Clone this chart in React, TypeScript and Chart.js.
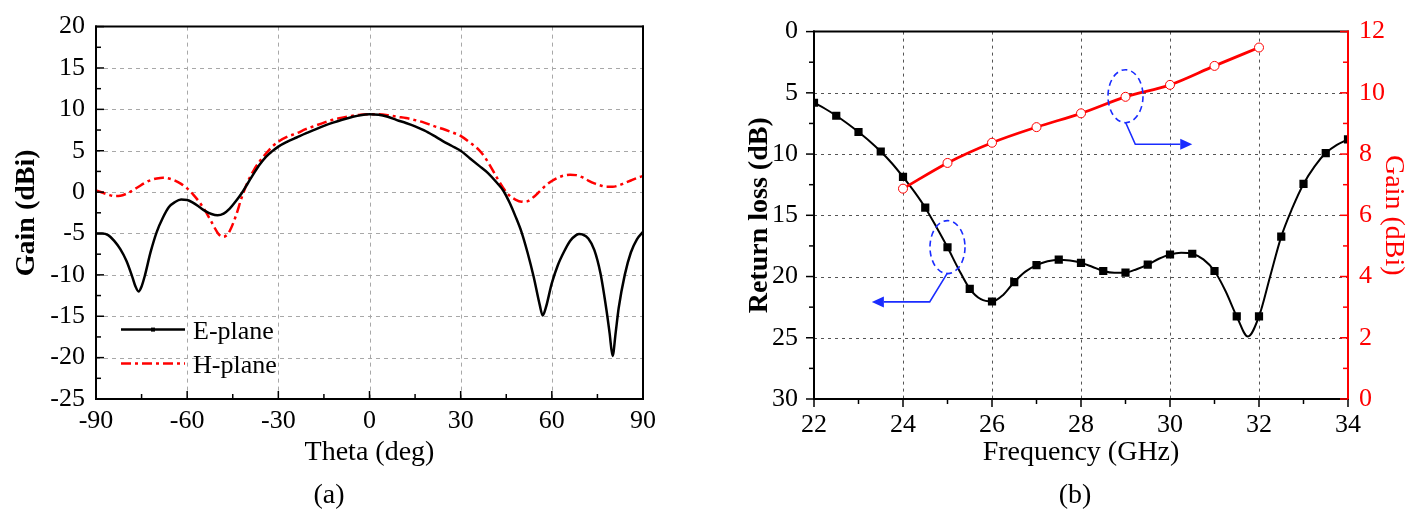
import React, { useEffect, useRef } from "react";
import { Chart, registerables } from "chart.js";
Chart.register(...registerables);

const SERIF = "'Liberation Serif', 'Times New Roman', Times, serif";

// ---------- Panel (a): radiation pattern ----------
const thetaE = [-90,-88,-86,-84,-82,-80,-78,-77,-76,-75,-74,-72,-70,-68,-66,-64,-62,-60,-58,-56,-54,-52,-50,-48,-46,-44,-42,-40,-38,-36,-34,-32,-30,-27,-24,-21,-18,-15,-12,-9,-6,-3,0,3,6,9,12,15,18,21,24,27,30,33,36,39,42,44,46,48,50,52,54,56,57,58,60,62,64,66,68,69,70,72,74,76,78,79,80,81,82,84,86,88,90];
const gainE = [-5.0,-5.0,-5.2,-5.9,-6.9,-8.3,-10.3,-11.4,-12.0,-11.4,-10.2,-7.2,-4.8,-3.1,-1.8,-1.2,-0.9,-0.95,-1.3,-1.8,-2.3,-2.65,-2.8,-2.6,-2.0,-1.1,-0.1,1.1,2.3,3.4,4.3,4.95,5.5,6.1,6.6,7.1,7.55,8.0,8.4,8.75,9.05,9.3,9.4,9.35,9.1,8.7,8.35,7.95,7.45,6.85,6.2,5.6,5.0,4.1,3.2,2.3,1.1,0.2,-1.2,-2.9,-4.8,-7.3,-10.2,-13.6,-14.9,-14.0,-11.0,-8.8,-7.2,-5.9,-5.2,-5.05,-5.1,-5.6,-7.0,-9.8,-14.3,-17.0,-19.8,-17.0,-14.0,-10.0,-7.3,-5.7,-4.8];
const thetaH = [-90,-88,-86,-84,-82,-80,-78,-76,-74,-72,-70,-68,-66,-64,-62,-60,-58,-56,-54,-52,-50,-49,-48,-47,-46,-44,-42,-40,-38,-36,-34,-32,-30,-27,-24,-21,-18,-15,-12,-9,-6,-3,0,3,6,9,12,15,18,21,24,27,30,33,36,38,40,42,44,46,48,50,52,54,56,58,60,62,64,66,68,70,72,74,76,78,80,82,84,86,88,90];
const gainH = [0.2,-0.05,-0.3,-0.48,-0.45,-0.2,0.2,0.65,1.1,1.45,1.65,1.75,1.65,1.4,1.0,0.45,-0.3,-1.2,-2.3,-3.6,-4.9,-5.3,-5.4,-5.2,-4.7,-2.9,-0.6,1.3,2.7,3.8,4.7,5.5,6.1,6.7,7.1,7.6,8.0,8.4,8.75,9.0,9.2,9.35,9.4,9.4,9.3,9.1,8.95,8.7,8.4,8.0,7.65,7.25,6.8,6.0,5.1,4.2,3.0,1.7,0.5,-0.4,-0.9,-1.15,-1.1,-0.6,0.1,0.8,1.35,1.75,2.0,2.1,2.05,1.8,1.4,1.05,0.8,0.65,0.65,0.8,1.1,1.4,1.7,1.95];
const legendLabelsA = ["E-plane", "H-plane"];
const thetaMajor = [-90, -60, -30, 0, 30, 60, 90];
const thetaMinor = [-75, -45, -15, 15, 45, 75];
const gainAMajor = [-25, -20, -15, -10, -5, 0, 5, 10, 15, 20];
const gainAMinor = [-22.5, -17.5, -12.5, -7.5, -2.5, 2.5, 7.5, 12.5, 17.5];

// ---------- Panel (b): return loss and gain vs frequency ----------
const freqRL = [22,22.25,22.5,22.75,23,23.25,23.5,23.75,24,24.25,24.5,24.75,25,25.25,25.5,25.75,26,26.25,26.5,26.75,27,27.25,27.5,27.75,28,28.25,28.5,28.75,29,29.25,29.5,29.75,30,30.25,30.5,30.75,31,31.25,31.5,31.75,32,32.25,32.5,32.75,33,33.25,33.5,33.75,34];
const returnLoss = [5.81,6.3,6.87,7.5,8.2,8.95,9.79,10.75,11.86,13.05,14.38,15.95,17.61,19.4,21.0,21.85,22.04,21.5,20.45,19.6,19.07,18.75,18.62,18.7,18.88,19.2,19.55,19.7,19.68,19.4,19.02,18.55,18.2,18.05,18.14,18.6,19.55,21.2,23.26,24.9,23.26,20.0,16.74,14.4,12.44,11.0,9.92,9.25,8.8];
const freqGain = [24, 25, 26, 27, 28, 29, 30, 31, 32];
const gainB = [6.87, 7.71, 8.37, 8.88, 9.33, 9.87, 10.26, 10.88, 11.48];
const freqMajor = [22, 24, 26, 28, 30, 32, 34];
const freqMinor = [23, 25, 27, 29, 31, 33];
const rlMajor = [0, 5, 10, 15, 20, 25, 30];
const rlMinor = [2.5, 7.5, 12.5, 17.5, 22.5, 27.5];
const gainBMajor = [0, 2, 4, 6, 8, 10, 12];
const gainBMinor = [1, 3, 5, 7, 9, 11];
// annotation callouts (data units)
const noteAxis = ["y", "y1"];
const noteCenterFreq = [25, 29];
const noteCenterValue = [17.6, 9.89];
const noteArrowFreq = [[25, 24.6, 23.3], [29, 29.22, 30.5]];
const noteArrowValue = [[19.7, 22.07, 22.07], [9.04, 8.32, 8.32]];

const H_DASH = [10, 4, 3, 4];

function makeDecor(cfg: any) {
  return {
    id: "decor",
    beforeDatasetsDraw(chart: any) {
      const { ctx, chartArea: a } = chart;
      ctx.save();
      ctx.strokeStyle = cfg.gridColor;
      ctx.lineWidth = 1;
      ctx.setLineDash(cfg.gridDash);
      const xs = chart.scales[cfg.xId];
      const ys = chart.scales[cfg.yId];
      for (const v of cfg.gridX) {
        const p = Math.round(xs.getPixelForValue(v)) + 0.5;
        if (p <= a.left + 2 || p >= a.right - 2) continue;
        ctx.beginPath(); ctx.moveTo(p, a.top); ctx.lineTo(p, a.bottom); ctx.stroke();
      }
      for (const v of cfg.gridY) {
        const p = Math.round(ys.getPixelForValue(v)) + 0.5;
        if (p <= a.top + 2 || p >= a.bottom - 2) continue;
        ctx.beginPath(); ctx.moveTo(a.left, p); ctx.lineTo(a.right, p); ctx.stroke();
      }
      ctx.restore();
    },
    afterDatasetsDraw(chart: any) {
      const { ctx, chartArea: a } = chart;
      ctx.save();
      ctx.setLineDash([]);
      ctx.lineWidth = 2;
      ctx.lineCap = "square";
      const seg = (x1: number, y1: number, x2: number, y2: number, c: string) => {
        ctx.strokeStyle = c; ctx.beginPath(); ctx.moveTo(x1, y1); ctx.lineTo(x2, y2); ctx.stroke();
      };
      seg(a.left, a.top, a.right, a.top, cfg.frame.top);
      seg(a.left, a.bottom, a.right, a.bottom, cfg.frame.bottom);
      seg(a.left, a.top, a.left, a.bottom, cfg.frame.left);
      seg(a.right, a.top, a.right, a.bottom, cfg.frame.right);
      ctx.lineCap = "butt";
      ctx.lineWidth = 1.5;
      for (const t of cfg.ticks) {
        const s = chart.scales[t.id];
        const draw = (v: number, len: number) => {
          const p = s.getPixelForValue(v);
          ctx.strokeStyle = t.color;
          ctx.beginPath();
          if (t.side === "bottom") {
            const d = t.out ? len : -len;
            ctx.moveTo(p, a.bottom); ctx.lineTo(p, a.bottom + d);
          } else if (t.side === "left") {
            const d = t.out ? -len : len;
            ctx.moveTo(a.left, p); ctx.lineTo(a.left + d, p);
          } else {
            const d = t.out ? len : -len;
            ctx.moveTo(a.right, p); ctx.lineTo(a.right + d, p);
          }
          ctx.stroke();
        };
        t.major.forEach((v: number) => draw(v, 8));
        t.minor.forEach((v: number) => draw(v, 5));
      }
      if (cfg.extra) cfg.extra(chart);
      ctx.restore();
    },
  };
}

function legendA(chart: any) {
  const { ctx, chartArea: a } = chart;
  const x0 = a.left + 25, x1 = a.left + 89;
  const ys = [a.top + 303, a.top + 337];
  ctx.save();
  ctx.lineWidth = 2.5;
  ctx.strokeStyle = "#000";
  ctx.setLineDash([]);
  ctx.beginPath(); ctx.moveTo(x0, ys[0]); ctx.lineTo(x1, ys[0]); ctx.stroke();
  ctx.fillStyle = "#000";
  ctx.fillRect((x0 + x1) / 2 - 2, ys[0] - 2, 4, 4);
  ctx.strokeStyle = "#ff0000";
  ctx.setLineDash(H_DASH);
  ctx.beginPath(); ctx.moveTo(x0, ys[1]); ctx.lineTo(x1, ys[1]); ctx.stroke();
  ctx.setLineDash([]);
  ctx.font = `26px ${SERIF}`;
  ctx.fillStyle = "#000";
  ctx.textBaseline = "alphabetic";
  ctx.textAlign = "left";
  legendLabelsA.forEach((lab, i) => ctx.fillText(lab, a.left + 97, ys[i] + 9));
  ctx.restore();
}

function notesB(chart: any) {
  const { ctx } = chart;
  const xs = chart.scales.x;
  ctx.save();
  for (let i = 0; i < noteAxis.length; i++) {
    const ys = chart.scales[noteAxis[i]];
    const cx = xs.getPixelForValue(noteCenterFreq[i]);
    const cy = ys.getPixelForValue(noteCenterValue[i]);
    ctx.strokeStyle = "#1a2cff";
    ctx.lineWidth = 1.6;
    ctx.setLineDash([6, 4]);
    ctx.beginPath(); ctx.ellipse(cx, cy, 17.5, 26.5, 0, 0, Math.PI * 2); ctx.stroke();
    ctx.setLineDash([]);
    const pts = noteArrowFreq[i].map((f, k) => [xs.getPixelForValue(f), ys.getPixelForValue(noteArrowValue[i][k])]);
    const n = pts.length;
    const [tx, ty] = pts[n - 1];
    const [px, py] = pts[n - 2];
    const ang = Math.atan2(ty - py, tx - px);
    const L = 12, W = 5.5;
    const bx = tx - L * Math.cos(ang), by = ty - L * Math.sin(ang);
    ctx.lineWidth = 1.6;
    ctx.beginPath();
    ctx.moveTo(pts[0][0], pts[0][1]);
    for (let k = 1; k < n - 1; k++) ctx.lineTo(pts[k][0], pts[k][1]);
    ctx.lineTo(bx, by);
    ctx.stroke();
    ctx.fillStyle = "#1a2cff";
    ctx.beginPath();
    ctx.moveTo(tx, ty);
    ctx.lineTo(bx - W * Math.sin(ang), by + W * Math.cos(ang));
    ctx.lineTo(bx + W * Math.sin(ang), by - W * Math.cos(ang));
    ctx.closePath();
    ctx.fill();
  }
  ctx.restore();
}

const tickFont = { family: SERIF, size: 26 };
const titleFont = { family: SERIF, size: 28 };

export default function App() {
  const refA = useRef<HTMLCanvasElement>(null);
  const refB = useRef<HTMLCanvasElement>(null);

  useEffect(() => {
    document.body.style.margin = "0";
    const cfgA: any = {
      type: "line",
      data: {
        datasets: [
          {
            label: legendLabelsA[0],
            data: thetaE.map((x, i) => ({ x, y: gainE[i] })),
            borderColor: "#000",
            borderWidth: 2.5,
            pointRadius: 0,
            cubicInterpolationMode: "monotone",
            fill: false,
          },
          {
            label: legendLabelsA[1],
            data: thetaH.map((x, i) => ({ x, y: gainH[i] })),
            borderColor: "#ff0000",
            borderWidth: 2.5,
            borderDash: H_DASH,
            pointRadius: 0,
            cubicInterpolationMode: "monotone",
            fill: false,
          },
        ],
      },
      options: {
        responsive: false,
        animation: false,
        events: [],
        layout: { padding: { top: 22, right: 57, left: 0, bottom: 0 } },
        plugins: { legend: { display: false }, tooltip: { enabled: false } },
        scales: {
          x: {
            type: "linear", min: -90, max: 90,
            afterFit: (s: any) => { s.height = 130; },
            grid: { display: false, drawTicks: false },
            border: { display: false },
            ticks: { stepSize: 30, font: tickFont, color: "#000", padding: 7, maxRotation: 0, autoSkip: false },
            title: { display: true, text: "Theta (deg)", font: titleFont, color: "#000", padding: { top: 0, bottom: 60 } },
          },
          y: {
            type: "linear", min: -25, max: 20,
            afterFit: (s: any) => { s.width = 96; },
            grid: { display: false, drawTicks: false },
            border: { display: false },
            ticks: { stepSize: 5, font: tickFont, color: "#000", padding: 11, autoSkip: false },
            title: { display: true, text: "Gain (dBi)", font: { ...titleFont, weight: "bold" }, color: "#000", padding: { top: 10, bottom: 0 } },
          },
        },
      },
      plugins: [
        makeDecor({
          xId: "x", yId: "y", gridX: thetaMajor, gridY: gainAMajor, gridColor: "#a8a8a8", gridDash: [4, 4],
          frame: { top: "#000", bottom: "#000", left: "#000", right: "#000" },
          ticks: [
            { id: "x", side: "bottom", major: thetaMajor, minor: thetaMinor, out: false, color: "#000" },
            { id: "y", side: "left", major: gainAMajor, minor: gainAMinor, out: false, color: "#000" },
          ],
          extra: legendA,
        }),
      ],
    };

    const cfgB: any = {
      type: "line",
      data: {
        datasets: [
          {
            label: "Gain",
            yAxisID: "y1",
            data: freqGain.map((x, i) => ({ x, y: gainB[i] })),
            borderColor: "#ff0000",
            borderWidth: 2.8,
            pointStyle: "circle",
            pointRadius: 4.5,
            pointBackgroundColor: "#ffffff",
            pointBorderColor: "#ff0000",
            pointBorderWidth: 1,
            cubicInterpolationMode: "monotone",
            fill: false,
          },
          {
            label: "Return loss",
            yAxisID: "y",
            data: freqRL.map((x, i) => ({ x, y: returnLoss[i] })),
            borderColor: "#000",
            borderWidth: 2,
            pointStyle: "rect",
            pointRadius: (c: any) => {
              const f = freqRL[c.dataIndex];
              return Math.abs(f * 2 - Math.round(f * 2)) < 1e-6 ? 5.8 : 0;
            },
            pointBackgroundColor: "#000",
            pointBorderColor: "#000",
            pointBorderWidth: 0,
            cubicInterpolationMode: "monotone",
            fill: false,
          },
        ],
      },
      options: {
        responsive: false,
        animation: false,
        events: [],
        layout: { padding: { top: 22, right: 0, left: 0, bottom: 0 } },
        plugins: { legend: { display: false }, tooltip: { enabled: false } },
        scales: {
          x: {
            type: "linear", min: 22, max: 34,
            afterFit: (s: any) => { s.height = 130; },
            grid: { display: false, drawTicks: false },
            border: { display: false },
            ticks: { stepSize: 2, font: tickFont, color: "#000", padding: 11, maxRotation: 0, autoSkip: false },
            title: { display: true, text: "Frequency (GHz)", font: titleFont, color: "#000", padding: { top: 0, bottom: 60 } },
          },
          y: {
            type: "linear", position: "left", min: 0, max: 30, reverse: true,
            afterFit: (s: any) => { s.width = 114; },
            grid: { display: false, drawTicks: false },
            border: { display: false },
            ticks: { stepSize: 5, font: tickFont, color: "#000", padding: 16, autoSkip: false },
            title: { display: true, text: "Return loss (dB)", font: { ...titleFont, weight: "bold" }, color: "#000", padding: { top: 43, bottom: 0 } },
          },
          y1: {
            type: "linear", position: "right", min: 0, max: 12,
            afterFit: (s: any) => { s.width = 65; },
            grid: { display: false, drawTicks: false },
            border: { display: false },
            ticks: { stepSize: 2, font: tickFont, color: "#ff0000", padding: 11, autoSkip: false },
            title: { display: true, text: "Gain (dBi)", font: titleFont, color: "#ff0000", padding: { top: 3, bottom: 0 } },
          },
        },
      },
      plugins: [
        makeDecor({
          xId: "x", yId: "y", gridX: freqMajor, gridY: rlMajor, gridColor: "#555555", gridDash: [3, 4],
          frame: { top: "#000", bottom: "#000", left: "#000", right: "#ff0000" },
          ticks: [
            { id: "x", side: "bottom", major: freqMajor, minor: freqMinor, out: true, color: "#000" },
            { id: "y", side: "left", major: rlMajor, minor: rlMinor, out: true, color: "#000" },
            { id: "y1", side: "right", major: gainBMajor, minor: gainBMinor, out: false, color: "#ff0000" },
          ],
          extra: notesB,
        }),
      ],
    };

    const a = new Chart(refA.current as HTMLCanvasElement, cfgA);
    const b = new Chart(refB.current as HTMLCanvasElement, cfgB);
    return () => {
      a.destroy();
      b.destroy();
    };
  }, []);

  const caption: React.CSSProperties = {
    position: "absolute",
    top: 494,
    transform: "translate(-50%, -50%)",
    fontFamily: SERIF,
    fontSize: 28,
    color: "#000",
    lineHeight: 1,
    whiteSpace: "nowrap",
  };

  return (
    <div style={{ position: "fixed", left: 0, top: 0, width: 1413, height: 529, background: "#fff" }}>
      <canvas ref={refA} width={700} height={529} style={{ position: "absolute", left: 0, top: 0 }} />
      <canvas ref={refB} width={713} height={529} style={{ position: "absolute", left: 700, top: 0 }} />
      <div style={{ ...caption, left: 329 }}>(a)</div>
      <div style={{ ...caption, left: 1075 }}>(b)</div>
    </div>
  );
}
